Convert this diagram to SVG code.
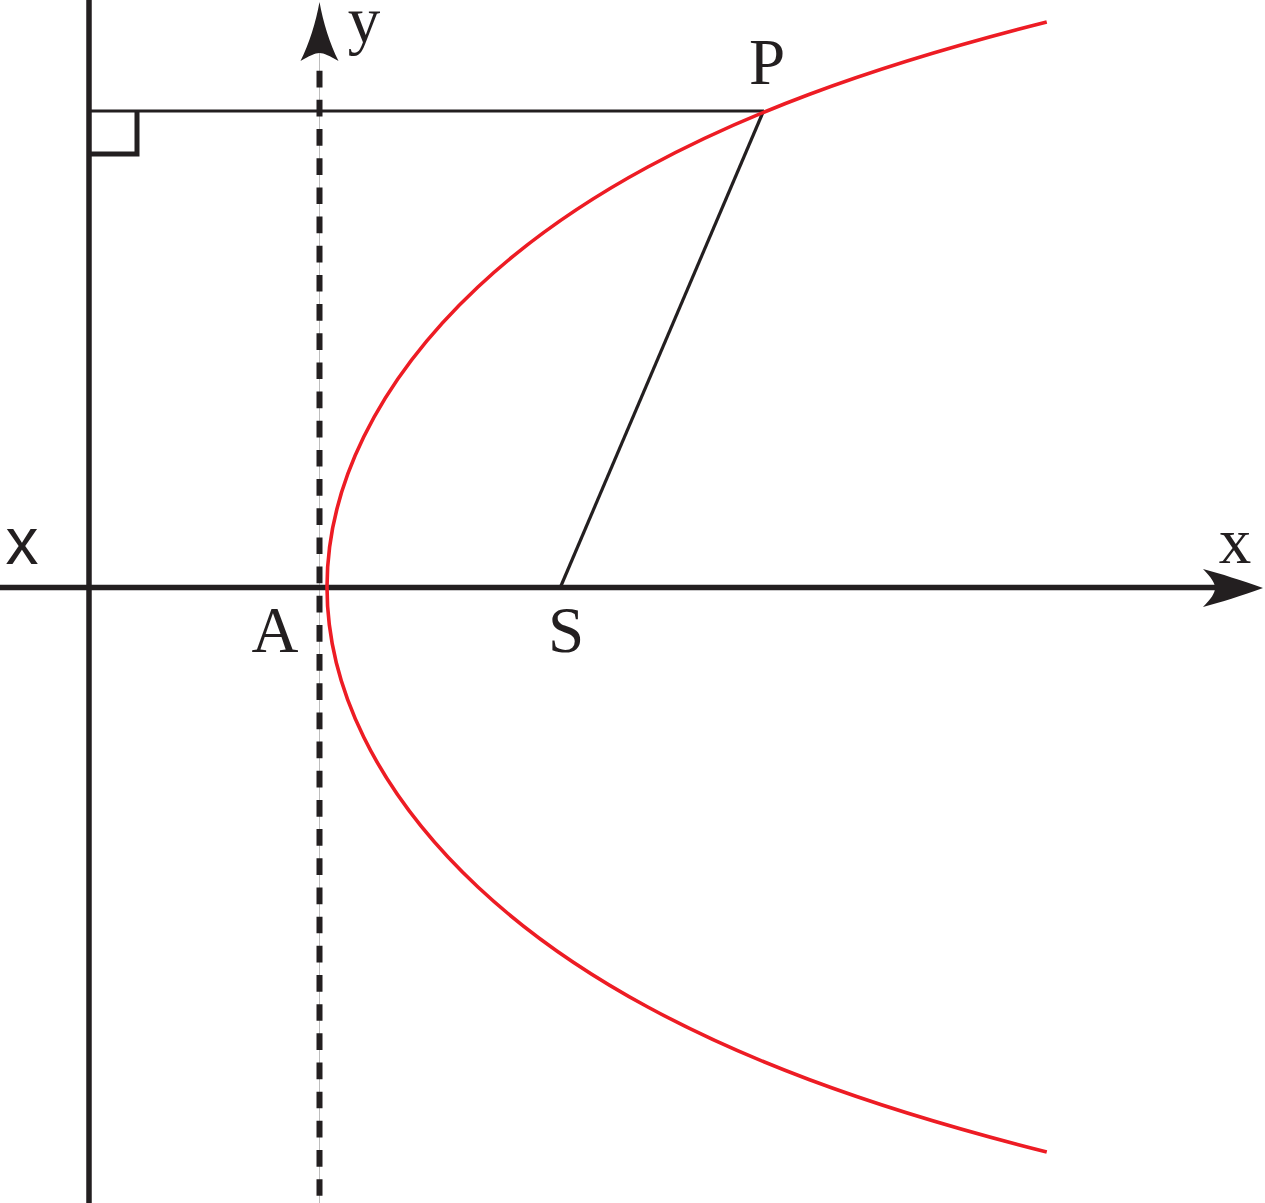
<svg xmlns="http://www.w3.org/2000/svg" width="1265" height="1203" viewBox="0 0 1265 1203">
<style>
.ln{stroke:#231F20;fill:none}
.lbl{font-family:"Liberation Serif","Times New Roman",serif;font-size:65px;fill:#231F20;text-anchor:middle}
.lbls{font-family:"Liberation Sans",Arial,sans-serif;font-size:66px;fill:#231F20;text-anchor:middle}
</style>
<rect width="1265" height="1203" fill="#FFFFFF"/>
<g id="directrix">
<line class="ln" x1="89" y1="0" x2="89" y2="1203" stroke-width="5.5"/>
<path class="ln" d="M89,154 H137 V111" stroke-width="5"/>
</g>
<g id="y-axis">
<line x1="319.5" y1="50" x2="319.5" y2="1203" stroke="#BDBDBD" stroke-width="1"/>
<line class="ln" x1="319.5" y1="70.7" x2="319.5" y2="1203" stroke-width="6" stroke-dasharray="16.7 12.47"/>
<path fill="#231F20" d="M319.5,2 C323,22 330,44 338.5,61 C330,56 324,53 319.5,53 C315,53 309,56 300.5,61 C309,44 316,22 319.5,2 Z"/>
</g>
<g id="x-axis">
<line class="ln" x1="0" y1="587.5" x2="1216" y2="587.5" stroke-width="5.5"/>
<path fill="#231F20" d="M1263,588 C1240,580 1222,574 1203,569 C1211,577 1215,583 1215,588 C1215,593 1211,599 1203,607 C1222,602 1240,596 1263,588 Z"/>
</g>
<g id="connectors">
<line class="ln" x1="89" y1="111" x2="764" y2="111" stroke-width="3.2"/>
<line class="ln" x1="763.5" y1="111" x2="560.5" y2="587" stroke-width="3.2"/>
</g>
<g id="parabola">
<path fill="none" stroke="#ED1C24" stroke-width="3.6" d="M1046.76,22 C855.07,70.33 737.2,118.67 647.8,167 C573.81,207 520.56,247 477.92,287 C424.62,337 388.23,387 363.68,437 C339.13,487 327,537 327,587 C327,637 339.13,687 363.68,737 C388.23,787 424.62,837 477.92,887 C520.56,927 573.81,967 647.8,1007 C737.2,1055.33 855.07,1103.67 1046.76,1152"/>
</g>
<g id="labels">
<text class="lbl" x="364" y="42">y</text>
<text class="lbl" x="767" y="83.5">P</text>
<text class="lbl" x="1235" y="562.5">x</text>
<text class="lbls" x="22" y="563.5">x</text>
<text class="lbl" x="275" y="651.5">A</text>
<text class="lbl" x="566" y="651.5">S</text>
</g>
</svg>
